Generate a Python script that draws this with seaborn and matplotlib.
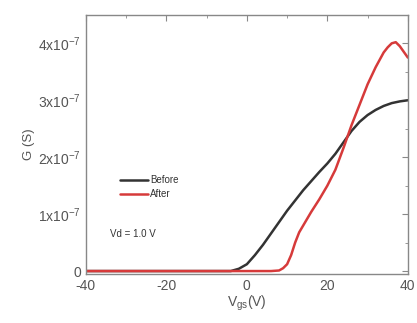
import matplotlib
matplotlib.use("Agg")
import matplotlib.pyplot as plt
import seaborn as sns
import pandas as pd
from matplotlib.ticker import MultipleLocator

# Transfer curves (G in units of 1e-7 S)
v_before = [-40, -30, -20, -10, -4, -2, 0, 2, 4, 6, 8, 10, 12, 14, 16, 18, 20,
            22, 24, 26, 28, 30, 32, 34, 36, 38, 40]
g_before = [0, 0, 0, 0, 0, 0.04, 0.12, 0.28, 0.46, 0.66, 0.86, 1.06, 1.24, 1.42,
            1.58, 1.74, 1.89, 2.06, 2.26, 2.46, 2.62, 2.74, 2.83, 2.90, 2.95, 2.98, 3.0]

v_after = [-40, -20, 0, 6, 8, 9, 10, 11, 12, 13, 14, 16, 18, 20, 22, 24, 26, 28,
           30, 32, 34, 35, 36, 37, 38, 39, 40]
g_after = [0, 0, 0, 0, 0.01, 0.05, 0.12, 0.28, 0.5, 0.68, 0.8, 1.04, 1.26, 1.5,
           1.78, 2.16, 2.56, 2.92, 3.28, 3.58, 3.84, 3.93, 4.0, 4.02, 3.95, 3.85, 3.75]

ytick_vals = [0, 1, 2, 3, 4]
ytick_labels = ["0", "1x10$^{-7}$", "2x10$^{-7}$", "3x10$^{-7}$", "4x10$^{-7}$"]
xtick_vals = [-40, -20, 0, 20, 40]

df = pd.concat([
    pd.DataFrame({"V": v_before, "G": g_before, "cond": "Before"}),
    pd.DataFrame({"V": v_after, "G": g_after, "cond": "After"}),
])

sns.set_style("white")
plt.rcParams["font.family"] = ["Liberation Sans", "DejaVu Sans"]
plt.rcParams["mathtext.fontset"] = "custom"
plt.rcParams["mathtext.rm"] = "Liberation Sans"
plt.rcParams["mathtext.it"] = "Liberation Sans"
plt.rcParams["axes.unicode_minus"] = False

fig = plt.figure(figsize=(4.17, 3.23), dpi=100)
ax = fig.add_axes([0.206, 0.152, 0.772, 0.802])

sns.lineplot(data=df, x="V", y="G", hue="cond", sort=False,
             palette={"Before": "#333333", "After": "#d63a3a"},
             linewidth=1.8, ax=ax, legend=False)

ax.set_xlim(-40, 40)
ax.set_ylim(-0.05, 4.5)
ax.set_xticks(xtick_vals)
ax.xaxis.set_minor_locator(MultipleLocator(10))
ax.set_yticks(ytick_vals)
ax.set_yticklabels(ytick_labels)
ax.yaxis.set_minor_locator(MultipleLocator(0.5))

txt = "#555555"
for s in ax.spines.values():
    s.set_color("#888888")
    s.set_linewidth(1.0)
ax.tick_params(which="both", direction="in", top=True, right=True,
               color="#888888", labelcolor=txt, labelsize=10)
ax.tick_params(which="major", length=4)
ax.tick_params(which="minor", length=2.5)

ax.set_xlabel("V$_{\\rm gs}$(V)", color=txt, fontsize=10, labelpad=1)
ax.set_ylabel("G (S)", color=txt, fontsize=9.5, labelpad=2)

# legend drawn by hand in data coords
ax.plot([-31.5, -24.5], [1.6, 1.6], color="#333333", lw=1.8)
ax.text(-24, 1.6, "Before", fontsize=7, va="center", color="#333333")
ax.plot([-31.5, -24.5], [1.35, 1.35], color="#d63a3a", lw=1.8)
ax.text(-24, 1.35, "After", fontsize=7, va="center", color="#333333")
ax.text(-34, 0.65, "Vd = 1.0 V", fontsize=7, va="center", color="#333333")

fig.savefig("out.png", dpi=100)
